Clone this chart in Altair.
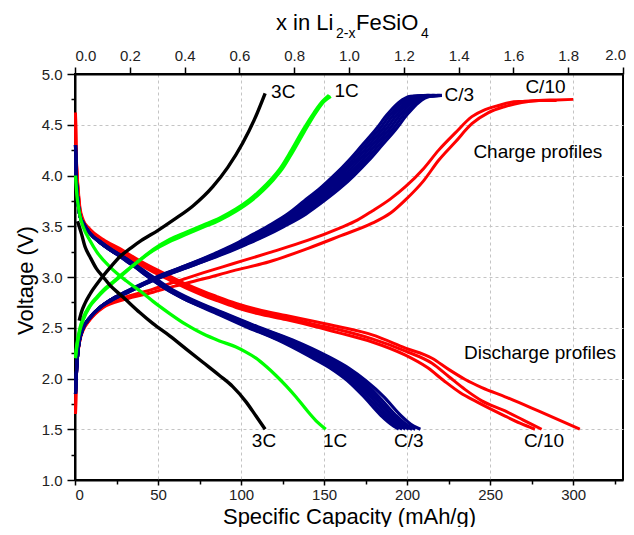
import altair as alt
import pandas as pd

FONT = "Liberation Sans"

# ---------------- data ----------------
rates = ["C/10", "C/3", "1C", "3C"]
rate_colors = ["#ff0000", "#000080", "#00ff00", "#000000"]
rate_widths = [3.0, 3.4, 3.2, 3.0]

# C/10 charge (2 visible cycles)
c10_ch1_cap = [0.3, 0.8, 1.5, 3, 5, 9, 17, 30, 47, 60, 77, 95, 117, 140, 159, 170, 179, 190, 199, 210, 219, 229, 239, 247, 255, 262, 269, 280, 290]
c10_ch1_v = [1.65, 2.0, 2.2, 2.38, 2.48, 2.58, 2.71, 2.8, 2.88, 2.95, 3.04, 3.13, 3.24, 3.36, 3.48, 3.56, 3.65, 3.77, 3.89, 4.07, 4.25, 4.42, 4.58, 4.65, 4.69, 4.72, 4.73, 4.74, 4.74]
c10_ch2_cap = [0.3, 0.8, 1.5, 3, 5, 9, 17, 30, 47, 60, 77, 95, 117, 140, 159, 179, 190, 199, 210, 219, 229, 239, 249, 259, 269, 279, 290, 300]
c10_ch2_v = [1.65, 2.0, 2.2, 2.38, 2.48, 2.58, 2.7, 2.78, 2.85, 2.91, 2.98, 3.06, 3.15, 3.28, 3.40, 3.53, 3.63, 3.76, 3.95, 4.15, 4.33, 4.51, 4.62, 4.68, 4.72, 4.74, 4.745, 4.75]

# C/10 discharge (3 cycles)
c10_dc1_cap = [0.3, 0.6, 1, 2, 3, 5, 9, 17, 27, 37, 47, 57, 67, 77, 85, 97, 110, 127, 145, 159, 179, 199, 215, 225, 235, 245, 259, 279, 304]
c10_dc1_v = [4.62, 4.3, 4.1, 3.85, 3.68, 3.56, 3.47, 3.37, 3.28, 3.18, 3.09, 3.01, 2.93, 2.86, 2.81, 2.74, 2.68, 2.62, 2.56, 2.51, 2.43, 2.30, 2.20, 2.09, 1.99, 1.91, 1.82, 1.68, 1.50]
c10_dc2_cap = [0.3, 0.6, 1, 2, 3, 5, 9, 17, 27, 37, 47, 57, 67, 77, 85, 97, 110, 127, 145, 159, 179, 199, 215, 225, 235, 245, 259, 270, 281]
c10_dc2_v = [4.6, 4.28, 4.08, 3.83, 3.66, 3.54, 3.45, 3.35, 3.26, 3.16, 3.07, 2.99, 2.91, 2.84, 2.79, 2.72, 2.66, 2.60, 2.53, 2.48, 2.39, 2.27, 2.15, 2.02, 1.89, 1.78, 1.68, 1.59, 1.50]
c10_dc3_cap = [0.3, 0.6, 1, 2, 3, 5, 9, 17, 27, 37, 47, 57, 67, 77, 85, 97, 110, 127, 145, 159, 179, 199, 212, 222, 232, 242, 259, 268, 277]
c10_dc3_v = [4.58, 4.26, 4.06, 3.81, 3.64, 3.52, 3.43, 3.33, 3.24, 3.14, 3.05, 2.97, 2.89, 2.82, 2.77, 2.70, 2.64, 2.58, 2.51, 2.45, 2.36, 2.23, 2.11, 1.98, 1.86, 1.77, 1.63, 1.56, 1.50]

# C/3 charge (7 cycles sharing voltage points)
c3_ch_v = [1.85, 2.1, 2.3, 2.4, 2.5, 2.6, 2.7, 2.77, 2.85, 2.93, 3.0, 3.12, 3.23, 3.32, 3.4, 3.5, 3.62, 3.75, 3.88, 4.0, 4.15, 4.3, 4.45, 4.6, 4.72, 4.78, 4.79]
c3_ch1_cap = [0.3, 1, 2, 3, 5, 9, 15, 21, 30, 40, 49, 68, 84, 96, 105, 116, 128, 138, 148, 156, 165, 173, 181, 188, 195, 202, 213]
c3_ch2_cap = [0.3, 1, 2, 3, 5, 9, 15, 21, 30, 40, 50, 68, 85, 97, 106, 117, 130, 140, 150, 158, 167, 175, 183, 190, 197, 204, 214]
c3_ch3_cap = [0.3, 1, 2, 3, 5, 9, 15, 21, 31, 41, 50, 69, 86, 98, 108, 119, 132, 142, 152, 160, 169, 177, 185, 192, 199, 206, 216]
c3_ch4_cap = [0.3, 1, 2, 3, 5, 9, 15, 21, 31, 41, 50, 70, 87, 100, 110, 121, 134, 144, 154, 162, 171, 179, 187, 194, 201, 208, 217]
c3_ch5_cap = [0.3, 1, 2, 3, 5, 9, 15, 21, 31, 41, 51, 71, 88, 101, 111, 123, 136, 146, 156, 164, 173, 181, 189, 196, 203, 210, 219]
c3_ch6_cap = [0.3, 1, 2, 3, 5, 9, 15, 22, 32, 42, 52, 72, 89, 102, 113, 125, 138, 148, 158, 166, 175, 183, 191, 198, 205, 212, 220]
c3_ch7_cap = [0.3, 1, 2, 3, 5, 9, 15, 22, 32, 42, 52, 72, 90, 103, 114, 126, 139, 150, 160, 168, 177, 185, 193, 200, 207, 214, 221]

# C/3 discharge (7 cycles sharing voltage points)
c3_dc_v = [4.3, 4.0, 3.8, 3.6, 3.53, 3.43, 3.34, 3.27, 3.18, 3.10, 2.99, 2.88, 2.79, 2.65, 2.51, 2.38, 2.22, 2.10, 1.98, 1.82, 1.64, 1.53, 1.5]
c3_dc1_cap = [0.3, 0.7, 1.5, 3, 5, 9, 15, 21, 29, 36, 45, 55, 65, 84, 103, 122, 141, 154, 164, 174, 184, 192, 195]
c3_dc2_cap = [0.3, 0.7, 1.5, 3, 5, 9, 15, 21, 29, 36, 45, 55, 65, 85, 104, 123, 143, 156, 166, 176, 186, 194, 197]
c3_dc3_cap = [0.3, 0.7, 1.5, 3, 5, 9, 15, 21, 30, 37, 46, 56, 66, 86, 105, 125, 145, 158, 168, 178, 188, 196, 199]
c3_dc4_cap = [0.3, 0.7, 1.5, 3, 5, 9, 15, 21, 30, 37, 46, 56, 67, 86, 106, 126, 146, 159, 169, 180, 190, 198, 201]
c3_dc5_cap = [0.3, 0.7, 1.5, 3, 5, 9, 15, 21, 30, 37, 47, 57, 67, 87, 107, 128, 148, 161, 171, 181, 191, 199, 203]
c3_dc6_cap = [0.3, 0.7, 1.5, 3, 5, 9, 16, 22, 31, 38, 47, 57, 68, 88, 109, 130, 150, 163, 173, 183, 193, 201, 205]
c3_dc7_cap = [0.3, 0.7, 1.5, 3, 5, 9, 16, 22, 31, 38, 48, 58, 69, 89, 110, 131, 152, 165, 175, 186, 196, 204, 208]

# 1C charge (2 cycles)
c1_ch1_cap = [0.3, 1, 2, 3, 5, 9, 13, 17, 22, 27, 37, 47, 57, 67, 77, 87, 97, 105, 112, 118, 124, 130, 137, 144, 149, 153]
c1_ch1_v = [2.2, 2.3, 2.4, 2.48, 2.58, 2.71, 2.79, 2.86, 2.93, 3.0, 3.14, 3.27, 3.37, 3.44, 3.51, 3.58, 3.67, 3.76, 3.86, 3.96, 4.08, 4.24, 4.44, 4.62, 4.73, 4.79]
c1_ch2_cap = [0.3, 1, 2, 3, 5, 9, 13, 17, 22, 27, 37, 47, 57, 67, 77, 87, 97, 106, 113, 119, 125, 131, 138, 145, 150, 154]
c1_ch2_v = [2.22, 2.32, 2.42, 2.5, 2.6, 2.72, 2.8, 2.87, 2.94, 3.01, 3.14, 3.26, 3.35, 3.42, 3.49, 3.56, 3.65, 3.75, 3.85, 3.95, 4.07, 4.23, 4.43, 4.62, 4.73, 4.78]

# 1C discharge
c1_dc_cap = [0.3, 0.7, 1.2, 2, 3, 5, 9, 13, 21, 31, 41, 47, 57, 67, 77, 87, 97, 103, 109, 115, 121, 127, 133, 141, 146, 151]
c1_dc_v = [4.0, 3.9, 3.8, 3.7, 3.6, 3.49, 3.36, 3.25, 3.10, 2.96, 2.84, 2.76, 2.64, 2.53, 2.44, 2.37, 2.31, 2.26, 2.20, 2.12, 2.03, 1.93, 1.82, 1.66, 1.57, 1.5]

# 3C charge / discharge
c3C_ch_cap = [2.5, 4, 6, 9, 15, 21, 27, 34, 40, 50, 60, 71, 83, 92, 101, 108, 114.5]
c3C_ch_v = [2.57, 2.66, 2.74, 2.83, 2.97, 3.09, 3.2, 3.29, 3.36, 3.46, 3.57, 3.7, 3.89, 4.08, 4.32, 4.55, 4.81]
c3C_dc_cap = [1.5, 2.5, 4, 6, 9, 13, 17, 21, 27, 31, 39, 47, 57, 67, 77, 87, 95, 103, 109, 114.5]
c3C_dc_v = [3.55, 3.5, 3.42, 3.3, 3.2, 3.08, 3.0, 2.92, 2.83, 2.77, 2.65, 2.54, 2.42, 2.29, 2.16, 2.03, 1.92, 1.77, 1.63, 1.5]

# annotation labels
label_text = ["3C", "1C", "C/3", "C/10", "Charge profiles", "Discharge profiles", "3C", "1C", "C/3", "C/10"]
label_cap = [125.4, 163.6, 231.4, 283.3, 278.7, 280.0, 113.8, 156.6, 201.0, 282.4]
label_v = [4.82, 4.83, 4.79, 4.87, 4.23, 2.25, 1.38, 1.38, 1.38, 1.38]

# axes ticks
x_major = [0, 50, 100, 150, 200, 250, 300]
x_minor = [25, 75, 125, 175, 225, 275, 325]
y_major = [1.0, 1.5, 2.0, 2.5, 3.0, 3.5, 4.0, 4.5, 5.0]
y_minor = [1.25, 1.75, 2.25, 2.75, 3.25, 3.75, 4.25, 4.75]
top_ticks = [0.0, 0.2, 0.4, 0.6, 0.8, 1.0, 1.2, 1.4, 1.6, 1.8, 2.0]
cap_per_x = 165  # mAh/g per Li
x_max = 330

# ---------------- build table ----------------
curves = [
    ("01", "C/10", c10_ch1_cap, c10_ch1_v),
    ("02", "C/10", c10_ch2_cap, c10_ch2_v),
    ("03", "C/10", c10_dc1_cap, c10_dc1_v),
    ("04", "C/10", c10_dc2_cap, c10_dc2_v),
    ("05", "C/10", c10_dc3_cap, c10_dc3_v),
    ("06", "C/3", c3_ch1_cap, c3_ch_v),
    ("07", "C/3", c3_ch2_cap, c3_ch_v),
    ("08", "C/3", c3_ch3_cap, c3_ch_v),
    ("09", "C/3", c3_ch4_cap, c3_ch_v),
    ("10", "C/3", c3_ch5_cap, c3_ch_v),
    ("11", "C/3", c3_ch6_cap, c3_ch_v),
    ("12", "C/3", c3_ch7_cap, c3_ch_v),
    ("13", "C/3", c3_dc1_cap, c3_dc_v),
    ("14", "C/3", c3_dc2_cap, c3_dc_v),
    ("15", "C/3", c3_dc3_cap, c3_dc_v),
    ("16", "C/3", c3_dc4_cap, c3_dc_v),
    ("17", "C/3", c3_dc5_cap, c3_dc_v),
    ("18", "C/3", c3_dc6_cap, c3_dc_v),
    ("19", "C/3", c3_dc7_cap, c3_dc_v),
    ("20", "1C", c1_ch1_cap, c1_ch1_v),
    ("21", "1C", c1_ch2_cap, c1_ch2_v),
    ("22", "1C", c1_dc_cap, c1_dc_v),
    ("23", "3C", c3C_ch_cap, c3C_ch_v),
    ("24", "3C", c3C_dc_cap, c3C_dc_v),
]
rows = []
for cid, rate, caps, vs in curves:
    for i, (c, v) in enumerate(zip(caps, vs)):
        rows.append({"cap": c, "V": v, "curve": cid, "rate": rate, "i": i})
df = pd.DataFrame(rows)
labels_df = pd.DataFrame({"t": label_text, "cap": label_cap, "V": label_v})

# plot-area size in pixels (layout only)
W, H = 548, 406
PAD = {"left": 67, "top": 66, "right": 3, "bottom": 47}

xscale = alt.Scale(domain=[0, x_max], nice=False, zero=False)
yscale = alt.Scale(domain=[1, 5], nice=False, zero=False)

label_style = dict(labelFont=FONT, labelFontSize=15, labelColor="#222222")
line_style = dict(domainColor="black", domainWidth=2, tickColor="black", tickWidth=1.5)
title_style = dict(titleFont=FONT, titleFontSize=22, titleFontWeight="normal", titleColor="black")

lines = alt.Chart(df).mark_line(interpolate="monotone").encode(
    x=alt.X("cap:Q", scale=xscale, axis=alt.Axis(
        orient="bottom", values=x_major, format="d", grid=True, gridDash=[3, 3],
        gridColor="#c4c4c4", gridWidth=1, tickSize=5, labelPadding=2,
        title="Specific Capacity (mAh/g)", titleX=W / 2, titleY=43,
        titleBaseline="alphabetic", titleAlign="center",
        **label_style, **line_style, **title_style)),
    y=alt.Y("V:Q", scale=yscale, axis=alt.Axis(
        orient="left", values=y_major, format=".1f", grid=True, gridDash=[3, 3],
        gridColor="#c4c4c4", gridWidth=1, tickSize=8, labelPadding=5,
        title="Voltage (V)", titleX=-43, titleY=206, titleAngle=270,
        titleBaseline="alphabetic", titleAlign="center",
        **label_style, **line_style, **title_style)),
    color=alt.Color("rate:N", scale=alt.Scale(domain=rates, range=rate_colors), legend=None),
    strokeWidth=alt.StrokeWidth("rate:N", scale=alt.Scale(domain=rates, range=rate_widths), legend=None),
    detail="curve:N",
    order="i:Q",
)

minor = alt.Chart(df).mark_point(opacity=0).encode(
    x=alt.X("cap:Q", scale=xscale, axis=alt.Axis(
        orient="bottom", values=x_minor, labels=False, grid=False, domain=False,
        tickSize=4, tickColor="black", tickWidth=1.5, title=None)),
    y=alt.Y("V:Q", scale=yscale, axis=alt.Axis(
        orient="left", values=y_minor, labels=False, grid=False, domain=False,
        tickSize=4, tickColor="black", tickWidth=1.5, title=None)),
)

last_top = top_ticks[-1] * cap_per_x
top = alt.Chart(df).mark_point(opacity=0).encode(
    x=alt.X("cap:Q", scale=xscale, axis=alt.Axis(
        orient="top", values=[t * cap_per_x for t in top_ticks],
        labelExpr=f"datum.value >= {last_top} ? '' : format(datum.value / {cap_per_x}, '.1f')",
        grid=False, tickSize=7, labelPadding=4, title=None,
        **label_style, **line_style)),
    y=alt.Y("V:Q", scale=yscale, axis=None),
)

# last top-axis label kept inside the page edge
top_last = alt.Chart(pd.DataFrame({"t": [f"{top_ticks[-1]:.1f}"]})).mark_text(
    font=FONT, fontSize=15, color="#222222", align="right", baseline="bottom"
).encode(x=alt.value(W + PAD["right"]), y=alt.value(-11), text="t:N")

ann = alt.Chart(labels_df).mark_text(font=FONT, fontSize=19, color="black",
                                     align="center", baseline="middle").encode(
    x=alt.X("cap:Q", scale=xscale, axis=None),
    y=alt.Y("V:Q", scale=yscale, axis=None),
    text="t:N",
)

def title_piece(txt, x, y, size):
    return alt.Chart(pd.DataFrame({"t": [txt]})).mark_text(
        font=FONT, fontSize=size, color="black", align="left", baseline="alphabetic"
    ).encode(x=alt.value(x), y=alt.value(y), text="t:N")

t1 = title_piece("x in Li", 201, -44, 22)
t2 = title_piece("2-x", 261, -36, 14)
t3 = title_piece("FeSiO", 281, -44, 22)
t4 = title_piece("4", 346, -36, 14)

chart = alt.layer(lines, minor, top, top_last, ann, t1, t2, t3, t4).resolve_axis(
    x="independent", y="independent"
).properties(
    width=W, height=H, autosize="none", padding=PAD,
).configure_view(stroke="black", strokeWidth=2)

chart.save("out.html", embed_options={"renderer": "svg", "actions": False})
